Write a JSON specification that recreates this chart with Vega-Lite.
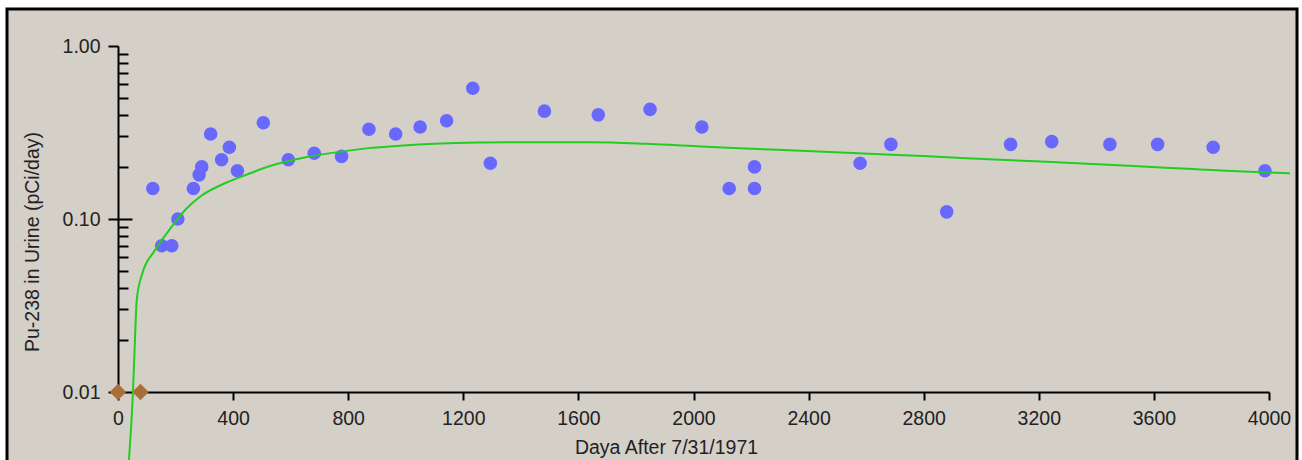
{
  "$schema": "https://vega.github.io/schema/vega-lite/v6.json",
  "width": 1290,
  "height": 460,
  "autosize": "none",
  "padding": {"left": 7, "top": 9, "right": 5, "bottom": 0},
  "background": "white",
  "config": {
    "view": {"fill": "#d4d0c8", "stroke": "#000000", "strokeWidth": 3},
    "font": "Liberation Sans",
    "axis": {"grid": false, "domainColor": "#000000", "tickColor": "#000000", "labelColor": "#222222", "titleColor": "#222222", "labelFont": "Liberation Sans", "titleFont": "Liberation Sans"}
  },
  "datasets": {
    "measured": [
      {"day": 121, "value": 0.15},
      {"day": 152, "value": 0.07},
      {"day": 187, "value": 0.07},
      {"day": 208, "value": 0.10},
      {"day": 262, "value": 0.15},
      {"day": 282, "value": 0.18},
      {"day": 291, "value": 0.20},
      {"day": 322, "value": 0.31},
      {"day": 360, "value": 0.22},
      {"day": 387, "value": 0.26},
      {"day": 415, "value": 0.19},
      {"day": 505, "value": 0.36},
      {"day": 592, "value": 0.22},
      {"day": 682, "value": 0.24},
      {"day": 777, "value": 0.23},
      {"day": 872, "value": 0.33},
      {"day": 965, "value": 0.31},
      {"day": 1050, "value": 0.34},
      {"day": 1142, "value": 0.37},
      {"day": 1233, "value": 0.57},
      {"day": 1294, "value": 0.21},
      {"day": 1482, "value": 0.42},
      {"day": 1669, "value": 0.40},
      {"day": 1849, "value": 0.43},
      {"day": 2029, "value": 0.34},
      {"day": 2124, "value": 0.15},
      {"day": 2212, "value": 0.20},
      {"day": 2212, "value": 0.15},
      {"day": 2579, "value": 0.21},
      {"day": 2686, "value": 0.27},
      {"day": 2880, "value": 0.11},
      {"day": 3102, "value": 0.27},
      {"day": 3245, "value": 0.28},
      {"day": 3447, "value": 0.27},
      {"day": 3613, "value": 0.27},
      {"day": 3806, "value": 0.26},
      {"day": 3986, "value": 0.19}
    ],
    "lowerLimit": [
      {"day": 0, "value": 0.01},
      {"day": 78, "value": 0.01}
    ],
    "fit": [
      {"day": 35, "value": 0.0033},
      {"day": 38, "value": 0.00404},
      {"day": 45, "value": 0.00603},
      {"day": 52, "value": 0.01},
      {"day": 59, "value": 0.02},
      {"day": 65, "value": 0.034},
      {"day": 83, "value": 0.0475},
      {"day": 129, "value": 0.0662},
      {"day": 187, "value": 0.0903},
      {"day": 239, "value": 0.1153},
      {"day": 285, "value": 0.1346},
      {"day": 372, "value": 0.161},
      {"day": 459, "value": 0.1837},
      {"day": 528, "value": 0.2025},
      {"day": 644, "value": 0.2262},
      {"day": 783, "value": 0.246},
      {"day": 864, "value": 0.256},
      {"day": 992, "value": 0.266},
      {"day": 1100, "value": 0.272},
      {"day": 1250, "value": 0.2765},
      {"day": 1450, "value": 0.278},
      {"day": 1650, "value": 0.2775},
      {"day": 1831, "value": 0.272},
      {"day": 2028, "value": 0.2625},
      {"day": 2159, "value": 0.2565},
      {"day": 2353, "value": 0.249},
      {"day": 2611, "value": 0.2385},
      {"day": 2799, "value": 0.231},
      {"day": 2930, "value": 0.2255},
      {"day": 3187, "value": 0.2155},
      {"day": 3316, "value": 0.2105},
      {"day": 3511, "value": 0.203},
      {"day": 3641, "value": 0.198},
      {"day": 3763, "value": 0.1935},
      {"day": 3891, "value": 0.189},
      {"day": 4073, "value": 0.1835}
    ]
  },
  "encoding": {
    "x": {
      "field": "day",
      "type": "quantitative",
      "scale": {"type": "linear", "domain": [0, 4000], "range": [111, 1262], "nice": false, "zero": false},
      "axis": {
        "orient": "bottom",
        "offset": -77,
        "values": [0, 400, 800, 1200, 1600, 2000, 2400, 2800, 3200, 3600, 4000],
        "format": "d",
        "tickSize": 8,
        "tickWidth": 2,
        "domainWidth": 2,
        "labelFontSize": 19.5,
        "labelPadding": 9.5,
        "labelFlush": false,
        "labelOverlap": false,
        "title": "Daya After 7/31/1971",
        "titleFontSize": 19.5,
        "titleFontWeight": "normal",
        "titleX": 659,
        "titleY": 61,
        "titleAlign": "center",
        "titleBaseline": "alphabetic"
      }
    }
  },
  "layer": [
    {
      "data": {"name": "measured"},
      "mark": {"type": "point", "shape": "circle", "filled": true, "size": 185, "color": "#6868ff", "opacity": 1},
      "encoding": {
        "y": {
          "field": "value",
          "type": "quantitative",
          "scale": {"type": "log", "domain": [0.01, 1], "range": [383, 37], "nice": false},
          "axis": {
            "orient": "left",
            "offset": -111,
            "values": [0.01, 0.1, 1],
            "format": ".2f",
            "tickSize": 10,
            "tickWidth": 2,
            "domainWidth": 2,
            "labelFontSize": 19.5,
            "labelPadding": 8,
            "labelFlush": false,
            "labelOverlap": false,
            "title": "Pu-238 in Urine (pCi/day)",
            "titleFontSize": 19.5,
            "titleFontWeight": "normal",
            "titleAngle": -90,
            "titleX": -80,
            "titleY": 232.5,
            "titleAlign": "center",
            "titleBaseline": "alphabetic"
          }
        }
      }
    },
    {
      "data": {"name": "lowerLimit"},
      "mark": {"type": "point", "shape": "diamond", "filled": true, "size": 270, "color": "#a87038", "opacity": 1},
      "encoding": {
        "y": {
          "field": "value",
          "type": "quantitative",
          "scale": {"type": "log", "domain": [0.01, 1], "range": [383, 37], "nice": false},
          "axis": null
        }
      }
    },
    {
      "data": {"name": "fit"},
      "mark": {"type": "line", "color": "#22cc22", "strokeWidth": 2, "interpolate": "monotone"},
      "encoding": {
        "y": {
          "field": "value",
          "type": "quantitative",
          "scale": {"type": "log", "domain": [0.01, 1], "range": [383, 37], "nice": false},
          "axis": {
            "orient": "left",
            "offset": -111,
            "values": [0.02, 0.03, 0.04, 0.05, 0.06, 0.07, 0.08, 0.09, 0.1, 0.2, 0.3, 0.4, 0.5, 0.6, 0.7, 0.8, 0.9],
            "tickSize": {"condition": {"test": "datum.value == 0.1", "value": -14}, "value": -10},
            "tickWidth": 2,
            "labels": false,
            "domain": false,
            "title": null
          }
        }
      }
    }
  ],
  "resolve": {"axis": {"y": "independent"}}
}
